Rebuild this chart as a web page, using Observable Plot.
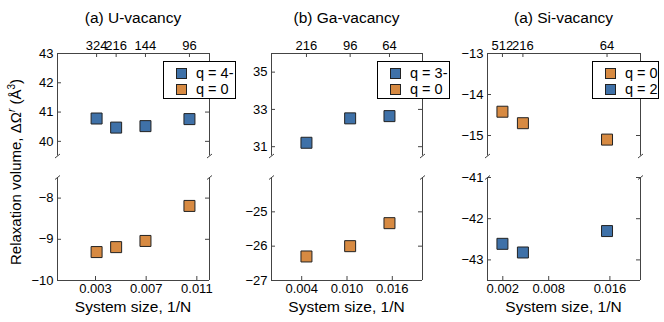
<!DOCTYPE html>
<html><head><meta charset="utf-8">
<script src="https://cdn.jsdelivr.net/npm/d3@7"></script>
<script src="https://cdn.jsdelivr.net/npm/@observablehq/plot@0.6"></script>
<style>
body{margin:0;background:#fff;font-family:"Liberation Sans",Arial,sans-serif;}
#fig{position:relative;width:664px;height:322px;overflow:hidden;background:#fff;}
#fig svg{position:absolute;left:0;top:0;overflow:visible;background:transparent;}
.lbl{position:absolute;white-space:nowrap;transform:translateX(-50%);font-size:15.5px;line-height:16px;color:#000;}
.ylab{position:absolute;white-space:nowrap;font-size:15px;line-height:16px;transform:translate(-50%,-50%) rotate(-90deg);}
.legend{position:absolute;border:1px solid #000;background:#fff;box-sizing:border-box;}
.row{position:absolute;left:12px;height:14px;display:flex;align-items:center;font-size:14.5px;}
.sq{width:11px;height:11px;border:1px solid #222;box-sizing:border-box;margin-right:9px;}
</style></head><body><div id="fig"></div>
<script>
// ---- data ----
const panelTitles = ["(a) U-vacancy", "(b) Ga-vacancy", "(a) Si-vacancy"];
const xLabel = "System size, 1/N";

const uN = [324, 216, 144, 96];
const uQ4minus = [40.78, 40.47, 40.52, 40.76];
const uQ0 = [-9.31, -9.19, -9.04, -8.19];

const gaN = [216, 96, 64];
const gaQ3minus = [31.21, 32.52, 32.64];
const gaQ0 = [-26.30, -26.00, -25.33];

const siN = [512, 216, 64];
const siQ0 = [-14.42, -14.70, -15.10];
const siQ2 = [-42.61, -42.82, -42.30];

const uXTicks = [0.003, 0.007, 0.011];
const gaXTicks = [0.004, 0.010, 0.016];
const siXTicks = [0.002, 0.008, 0.016];

const uTopTicks = [40, 41, 42, 43], uBotTicks = [-10, -9, -8];
const gaTopTicks = [31, 33, 35], gaBotTicks = [-27, -26, -25];
const siTopTicks = [-15, -14, -13], siBotTicks = [-43, -42, -41];

const blue = "#3f71a8", orange = "#d78a42";

// ---- panels (built from the arrays above) ----
const panels = [
  {title: panelTitles[0], N: uN, L: 57, R: 209, xDomain: [0, 0.012], xTicks: uXTicks,
   top: {label: "q = 4-", values: uQ4minus, color: blue, domain: [39.5, 43], ticks: uTopTicks},
   bottom: {label: "q = 0", values: uQ0, color: orange, domain: [-10, -7.5], ticks: uBotTicks},
   legend: {left: 163, width: 73}},
  {title: panelTitles[1], N: gaN, L: 271, R: 422, xDomain: [0, 0.02], xTicks: gaXTicks,
   top: {label: "q = 3-", values: gaQ3minus, color: blue, domain: [30.5, 36], ticks: gaTopTicks},
   bottom: {label: "q = 0", values: gaQ0, color: orange, domain: [-27, -24], ticks: gaBotTicks},
   legend: {left: 377, width: 73}},
  {title: panelTitles[2], N: siN, L: 487, R: 640, xDomain: [0, 0.02], xTicks: siXTicks,
   top: {label: "q = 0", values: siQ0, color: orange, domain: [-15.5, -13], ticks: siTopTicks},
   bottom: {label: "q = 2", values: siQ2, color: blue, domain: [-43.5, -41], ticks: siBotTicks},
   legend: {left: 592, width: 67}}
];

const W = 664, H = 322, spine = "#444";
const fmtY = d => d < 0 ? "\u2212" + Math.abs(d) : String(d);
const brk = {draw(ctx) { ctx.moveTo(-2.5, 2); ctx.lineTo(2.5, -2); }};

function sub(p, part) {
  const isTop = part === "top";
  const T = isTop ? 53 : 177, B = isTop ? 155.5 : 280;
  const s = isTop ? p.top : p.bottom;
  const fw = p.R - p.L, fh = B - T;
  const inv = p.N.map(n => 1 / n);
  const marks = [
    Plot.ruleX(p.xDomain, {stroke: spine, strokeWidth: 1}),
    Plot.ruleY([isTop ? s.domain[1] : s.domain[0]], {stroke: spine, strokeWidth: 1}),
    Plot.tickY(s.ticks, {y: d => d, insetRight: fw - 4, stroke: spine}),
    Plot.tickY(s.ticks, {y: d => d, insetLeft: fw - 4, stroke: spine}),
    Plot.axisY(s.ticks, {anchor: "left", label: null, tickSize: 0, tickPadding: 4, tickFormat: fmtY, fontSize: 13, fill: "#000"}),
    isTop
      ? Plot.axisX(inv, {anchor: "top", label: null, tickSize: 0, tickPadding: 4, tickFormat: d => String(Math.round(1 / d)), fontSize: 13, fill: "#000"})
      : Plot.axisX(p.xTicks, {anchor: "bottom", label: null, tickSize: 0, tickPadding: 3, tickFormat: d3.format(".3f"), fontSize: 13, fill: "#000"}),
    isTop
      ? Plot.tickX(inv, {x: d => d, insetBottom: fh - 4, stroke: spine})
      : Plot.tickX(p.xTicks, {x: d => d, insetTop: fh - 4, stroke: spine}),
    Plot.dot([0], {x: null, y: null, frameAnchor: isTop ? "bottom-left" : "top-left", symbol: brk, r: 3, fill: "none", stroke: spine, strokeWidth: 1}),
    Plot.dot([0], {x: null, y: null, frameAnchor: isTop ? "bottom-right" : "top-right", symbol: brk, r: 3, fill: "none", stroke: spine, strokeWidth: 1}),
    Plot.dot(p.N.map((n, i) => ({x: 1 / n, y: s.values[i]})), {x: "x", y: "y", symbol: "square", r: 6.2, fill: s.color, stroke: "#222", strokeWidth: 1})
  ];
  return Plot.plot({
    width: W, height: H,
    marginLeft: p.L, marginRight: W - p.R, marginTop: T, marginBottom: H - B,
    x: {domain: p.xDomain, axis: null, label: null},
    y: {domain: s.domain, axis: null, label: null},
    style: {background: "transparent", overflow: "visible", fontFamily: "'Liberation Sans', Arial, sans-serif", fontSize: "13px", color: "#000"},
    marks
  });
}

const fig = document.getElementById("fig");
for (const p of panels) {
  fig.appendChild(sub(p, "top"));
  fig.appendChild(sub(p, "bottom"));
  const cx = (p.L + p.R) / 2;
  const t = document.createElement("div");
  t.className = "lbl"; t.style.left = cx + "px"; t.style.top = "10px"; t.textContent = p.title;
  fig.appendChild(t);
  const xl = document.createElement("div");
  xl.className = "lbl"; xl.style.left = cx + "px"; xl.style.top = "299px"; xl.textContent = xLabel;
  fig.appendChild(xl);
  const lg = document.createElement("div");
  lg.className = "legend";
  lg.style.left = p.legend.left + "px"; lg.style.top = "61px";
  lg.style.width = p.legend.width + "px"; lg.style.height = "38px";
  [p.top, p.bottom].forEach((s, i) => {
    const r = document.createElement("div");
    r.className = "row"; r.style.top = (4 + i * 16) + "px";
    const sq = document.createElement("div");
    sq.className = "sq"; sq.style.background = s.color;
    r.appendChild(sq);
    r.appendChild(document.createTextNode(s.label));
    lg.appendChild(r);
  });
  fig.appendChild(lg);
}
const yl = document.createElement("div");
yl.className = "ylab"; yl.style.left = "14px"; yl.style.top = "172px";
yl.innerHTML = "Relaxation volume, \u0394\u03A9<sup style='font-style:italic;font-size:10px'>r</sup> (\u00C5<sup style='font-size:10px'>3</sup>)";
fig.appendChild(yl);
</script></body></html>
